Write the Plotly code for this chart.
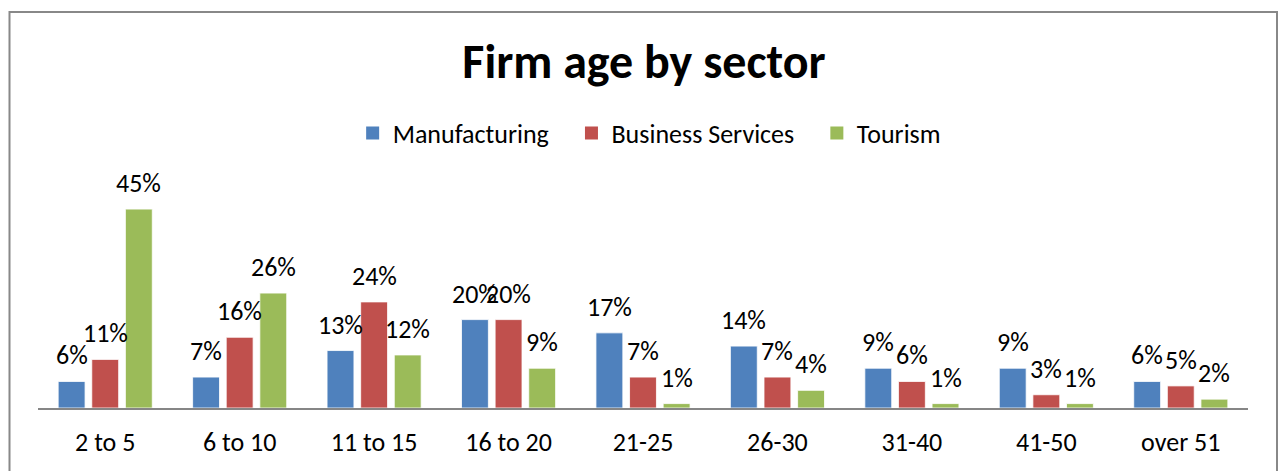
import plotly.graph_objects as go

# Firm age bands and share of firms (%) in each sector
age_bands = ["2 to 5", "6 to 10", "11 to 15", "16 to 20", "21-25",
             "26-30", "31-40", "41-50", "over 51"]
manufacturing = [6, 7, 13, 20, 17, 14, 9, 9, 6]
business_services = [11, 16, 24, 20, 7, 7, 6, 3, 5]
tourism = [45, 26, 12, 9, 1, 4, 1, 1, 2]

series_names = ["Manufacturing", "Business Services", "Tourism"]
series_values = [manufacturing, business_services, tourism]
series_colors = ["#4F81BD", "#C0504D", "#9BBB59"]

FONT = "Calibri, Carlito, Lato, sans-serif"
W, H = 1279, 471
PLOT_L, PLOT_R, PLOT_T, PLOT_B = 38, 1248, 187, 408
BARGAP, GROUPGAP = 0.25, 0.2
LEGEND_PAD = "\u00a0" * 3

fig = go.Figure()
for k, (name, vals, color) in enumerate(zip(series_names, series_values, series_colors)):
    fig.add_trace(go.Bar(
        name=name, x=age_bands, y=vals, showlegend=False,
        marker=dict(color=color, line=dict(color="white", width=0.8)),
    ))
    # square legend swatch for the series
    label = name + (LEGEND_PAD if k < len(series_names) - 1 else "")
    fig.add_trace(go.Scatter(
        name=label, x=[None], y=[None], mode="markers",
        marker=dict(symbol="square", size=13, color=color),
    ))

# Value labels above each bar, placed at the grouped bar centres
n = len(series_names)
slot = (1 - BARGAP) / n
for j, vals in enumerate(series_values):
    for i, v in enumerate(vals):
        fig.add_annotation(
            x=i - (1 - BARGAP) / 2 + slot * (j + 0.5), y=v,
            xref="x", yref="y", text=f"{v}%", showarrow=False,
            yanchor="bottom", yshift=8,
            font=dict(family=FONT, size=26, color="black"),
        )

# Chart border
pw, ph = PLOT_R - PLOT_L, PLOT_B - PLOT_T
fig.add_shape(
    type="rect", xref="paper", yref="paper",
    x0=(9.5 - PLOT_L) / pw, x1=(1277 - PLOT_L) / pw,
    y0=(PLOT_B - 500) / ph, y1=(PLOT_B - 12) / ph,
    line=dict(color="#888888", width=2), fillcolor="rgba(0,0,0,0)", layer="below",
)

fig.update_layout(
    width=W, height=H,
    margin=dict(l=PLOT_L, r=W - PLOT_R, t=PLOT_T, b=H - PLOT_B, pad=0,
                autoexpand=False),
    paper_bgcolor="white", plot_bgcolor="white",
    barmode="group", bargap=BARGAP, bargroupgap=GROUPGAP,
    title=dict(text="<b>Firm age by sector</b>", x=644 / W, xanchor="center",
               y=1 - 61 / H, yanchor="middle",
               font=dict(family=FONT, size=48, color="black")),
    legend=dict(orientation="h", x=646 / W, xanchor="center",
                y=(PLOT_B - 133) / ph, yref="paper", yanchor="middle",
                font=dict(family=FONT, size=26, color="black"),
                itemwidth=30, tracegroupgap=0, bgcolor="rgba(0,0,0,0)"),
    showlegend=True,
    font=dict(family=FONT),
)
fig.update_xaxes(
    type="category", showline=True, linecolor="#868686", linewidth=2,
    showgrid=False, ticks="", ticklabelstandoff=10, automargin=False,
    tickfont=dict(family=FONT, size=26, color="black"),
    range=[-0.5, len(age_bands) - 0.5],
)
fig.update_yaxes(range=[0, 50], visible=False, showgrid=False, zeroline=False,
                 automargin=False)

fig.write_html("out.html")
